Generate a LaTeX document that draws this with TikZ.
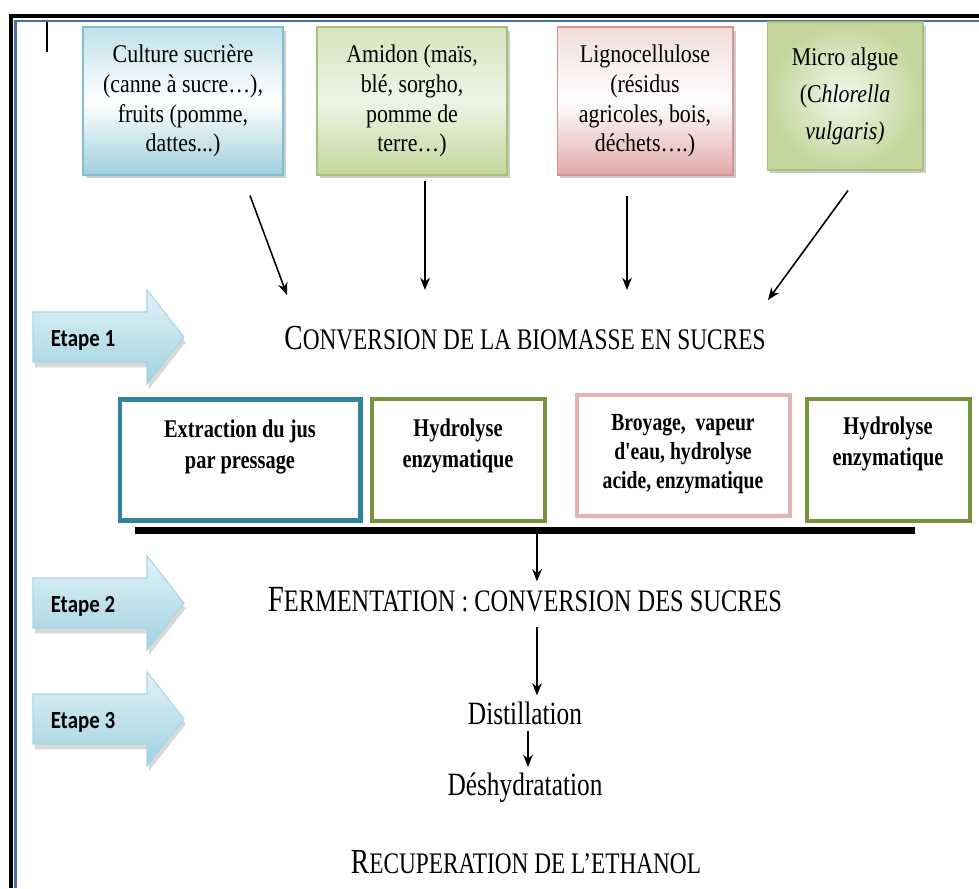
\documentclass[tikz,border=0pt]{standalone}
\usepackage{fontspec}
\setmainfont{Liberation Serif}[FakeStretch=0.86]
\newfontfamily\etroit{Liberation Serif}[FakeStretch=0.78]
\newfontfamily\gras{Liberation Serif}[FakeStretch=0.8]
\newfontfamily\etapefont{Carlito}[FakeStretch=0.85]
\usepackage{xcolor}
\usepackage{tikz}
\usetikzlibrary{arrows.meta,shadows,positioning}

\definecolor{cadreblue}{HTML}{4A6FA5}
\definecolor{bleuA}{HTML}{BFE0EA}
\definecolor{bleuB}{HTML}{9FCFDD}
\definecolor{bleuT}{HTML}{7FBFD0}
\definecolor{vertA}{HTML}{D7E3BF}
\definecolor{vertB}{HTML}{C3D69B}
\definecolor{vertT}{HTML}{A6C17A}
\definecolor{roseA}{HTML}{F2DCDB}
\definecolor{roseB}{HTML}{E2A9A8}
\definecolor{roseT}{HTML}{D69391}
\definecolor{tealc}{HTML}{31849B}
\definecolor{vertfonce}{HTML}{77933C}
\definecolor{rosec}{HTML}{E3B4B3}
\definecolor{etapeA}{HTML}{E2F2F7}
\definecolor{etapeB}{HTML}{9FD2E0}
\definecolor{etapeT}{HTML}{A9D6E3}

% fausses petites capitales
\newcommand\petcap[2]{{\fontsize{20}{24}\selectfont #1}{\fontsize{17}{20}\selectfont #2}}

\begin{document}
\begin{tikzpicture}[x=0.02cm,y=-0.02cm,>={Stealth[length=7pt,width=5.5pt]},
source/.style={rectangle,align=center,minimum height=2.96cm,line width=0.6pt,
font=\fontsize{14.5}{17}\selectfont,
drop shadow={shadow xshift=1.5pt,shadow yshift=-2pt,fill=black!40}},
stepbox/.style={rectangle,minimum height=2.44cm,line width=2.3pt},
steptxt/.style={align=center,font=\gras\bfseries\fontsize{14.5}{18}\selectfont},
titre/.style={font=\etroit},
fleche/.style={->,line width=0.9pt},
etapefleche/.style={top color=etapeA,bottom color=etapeB,draw=etapeT,line width=0.6pt,
drop shadow={shadow xshift=1pt,shadow yshift=-3pt,fill=black!30}},
etapetxt/.style={font=\etapefont\bfseries\fontsize{14}{16}\selectfont}]
\useasboundingbox (0,0) rectangle (979,888);

% cadre
\draw[line width=2.3pt,black] (11,888) -- (11,16) -- (979,16);
\draw[line width=1.6pt,cadreblue] (15.5,888) -- (15.5,21) -- (979,21);
\draw[line width=0.8pt] (47,22) -- (47,52);

% sources de biomasse
\node (cult) [source,minimum width=4cm,draw=bleuT,top color=bleuA,bottom color=bleuB,
middle color=white] at (183,101) {Culture sucrière\\(canne à sucre…),\\fruits (pomme,\\dattes...)};
\node (amid) [source,minimum width=3.8cm,draw=vertT,top color=vertA,bottom color=vertB,
middle color=vertA!40] at (412,101) {Amidon (maïs,\\blé, sorgho,\\pomme de\\terre…)};
\node (ligno) [source,minimum width=3.52cm,draw=roseT,top color=roseA,bottom color=roseB,
middle color=white] at (645,101) {Lignocellulose\\(résidus\\agricoles, bois,\\déchets….)};
\node (algue) [source,minimum width=3.12cm,draw=vertT,inner color=vertA!30,outer color=vertB,
font=\fontsize{14.5}{21}\selectfont] at (845,96) {Micro algue\\(C\textit{hlorella}\\\textit{vulgaris)}};

\coordinate (c1) at (287,295);
\coordinate (c2) at (425,290);
\coordinate (c3) at (627,290);
\coordinate (c4) at (768,300);
\draw[fleche] ([shift={(67,20)}]cult.south) -- (c1);
\draw[fleche] ([shift={(13,5)}]amid.south) -- (c2);
\draw[fleche] ([shift={(-18,20)}]ligno.south) -- (c3);
\draw[fleche] ([shift={(3,20)}]algue.south) -- (c4);

% etapes
\foreach \n/\yc in {1/337,2/603,3/719}{
\draw[etapefleche] (33,\yc-25) -- (147,\yc-25) -- (147,\yc-47) -- (184,\yc)
-- (147,\yc+47) -- (147,\yc+25) -- (33,\yc+25) -- cycle;
\node (etape\n) [etapetxt] at (83,\yc+3) {Etape \n};
}

\node (conv) [titre] at (525,338) {\petcap{C}{ONVERSION DE LA BIOMASSE EN SUCRES}};

% traitements
\node (extr) [stepbox,draw=tealc,minimum width=4.82cm,minimum height=2.42cm] at (240,460) {};
\node (hydroA) [stepbox,draw=vertfonce,minimum width=3.46cm] at (458.5,460) {};
\node (broy) [stepbox,draw=rosec,minimum width=4.26cm,minimum height=2.42cm] at (683.5,455.5) {};
\node (hydroB) [stepbox,draw=vertfonce,minimum width=3.26cm] at (888.5,460) {};
\node (extrT) [steptxt] at (240,447) {Extraction du jus\\par pressage};
\node (hydroAT) [steptxt] at (458,446) {Hydrolyse\\enzymatique};
\node (broyT) [steptxt,font=\gras\bfseries\fontsize{14}{16.5}\selectfont] at (683,454)
{Broyage,\ \ vapeur\\d'eau, hydrolyse\\acide, enzymatique};
\node (hydroBT) [steptxt] at (888,444) {Hydrolyse\\enzymatique};

\node (barre) [rectangle,fill=black,inner sep=0pt,minimum width=15.6cm,minimum height=0.14cm]
at (525,530) {};

\node (ferm) [titre,font=\etroit\fontsize{17.8}{21}\selectfont] at (525,600)
{{\fontsize{21}{24}\selectfont F}ERMENTATION : CONVERSION DES SUCRES};
\node (dist) [titre,font=\etroit\fontsize{18.5}{22}\selectfont] at (525,713) {Distillation};
\node (desh) [titre,font=\etroit\fontsize{18.5}{22}\selectfont] at (525,788) {Déshydratation};
\node (recup) [titre] at (526,862) {\petcap{R}{ECUPERATION DE L’ETHANOL}};

\coordinate (axe) at (537,0);
\coordinate (axe2) at (528,0);
\draw[fleche] (barre.south -| axe) -- (ferm.north -| axe);
\draw[fleche] ([yshift=-5pt]ferm.south -| axe) -- (dist.north -| axe);
\draw[fleche] (dist.south -| axe2) -- (desh.north -| axe2);
\end{tikzpicture}
\end{document}
